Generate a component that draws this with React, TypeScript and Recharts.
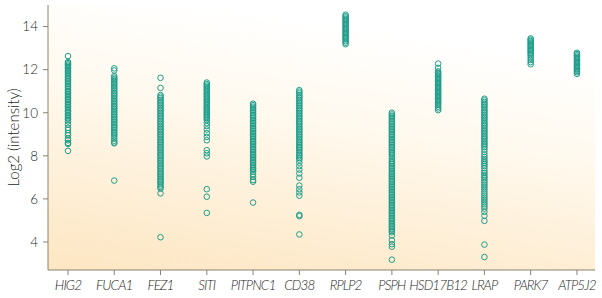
import React from "react";
import { ScatterChart, Scatter, XAxis, YAxis, CartesianGrid } from "recharts";

const categories = ["HIG2", "FUCA1", "FEZ1", "SIT1", "PITPNC1", "CD38", "RPLP2", "PSPH", "HSD17B12", "LRAP", "PARK7", "ATP5J2"];
const tickLabels = ["HIG2", "FUCA1", "FEZ1", "SITI", "PITPNC1", "CD38", "RPLP2", "PSPH", "HSD17B12", "LRAP", "PARK7", "ATP5J2"];
const yTicks = [4, 6, 8, 10, 12, 14];

const HIG2 = [12.63, 12.35, 12.3, 12.24, 12.18, 12.12, 12.05, 11.98, 11.92, 11.85, 11.78, 11.7, 11.63, 11.55, 11.48, 11.4, 11.33, 11.25, 11.18, 11.1, 11.02, 10.95, 10.88, 10.8, 10.72, 10.65, 10.58, 10.5, 10.42, 10.35, 10.28, 10.2, 10.12, 10.05, 9.98, 9.9, 9.83, 9.75, 9.68, 9.6, 9.45, 9.3, 9.2, 9.05, 8.95, 8.8, 8.72, 8.6, 8.55, 8.23];
const FUCA1 = [12.06, 11.96, 11.7, 11.63, 11.56, 11.5, 11.43, 11.36, 11.3, 11.22, 11.15, 11.08, 11.0, 10.92, 10.85, 10.78, 10.7, 10.62, 10.55, 10.48, 10.4, 10.32, 10.25, 10.18, 10.1, 10.02, 9.95, 9.88, 9.8, 9.72, 9.65, 9.58, 9.5, 9.42, 9.35, 9.28, 9.2, 9.12, 9.05, 8.98, 8.9, 8.8, 8.7, 8.62, 8.58, 6.85];
const FEZ1 = [11.62, 11.15, 10.82, 10.75, 10.68, 10.6, 10.52, 10.45, 10.38, 10.3, 10.22, 10.15, 10.08, 10.0, 9.92, 9.85, 9.78, 9.7, 9.62, 9.55, 9.48, 9.4, 9.32, 9.25, 9.18, 9.1, 9.02, 8.95, 8.88, 8.8, 8.72, 8.65, 8.58, 8.5, 8.42, 8.35, 8.28, 8.2, 8.12, 8.05, 7.98, 7.9, 7.82, 7.75, 7.68, 7.6, 7.52, 7.45, 7.38, 7.3, 7.22, 7.15, 7.08, 7.0, 6.92, 6.85, 6.78, 6.7, 6.62, 6.55, 6.48, 6.26, 4.22];
const SIT1 = [11.4, 11.33, 11.26, 11.2, 11.13, 11.06, 11.0, 10.93, 10.86, 10.8, 10.73, 10.66, 10.6, 10.53, 10.46, 10.4, 10.33, 10.26, 10.2, 10.13, 10.06, 10.0, 9.93, 9.86, 9.8, 9.73, 9.66, 9.52, 9.38, 9.22, 9.05, 8.88, 8.72, 8.26, 8.12, 7.97, 6.45, 6.1, 5.35];
const PITPNC1 = [10.42, 10.35, 10.28, 10.2, 10.13, 10.06, 9.98, 9.9, 9.83, 9.76, 9.68, 9.6, 9.53, 9.46, 9.38, 9.3, 9.23, 9.16, 9.08, 9.0, 8.93, 8.86, 8.78, 8.7, 8.63, 8.56, 8.48, 8.4, 8.33, 8.26, 8.18, 8.1, 8.03, 7.96, 7.88, 7.8, 7.73, 7.66, 7.58, 7.5, 7.42, 7.35, 7.27, 7.15, 7.02, 6.88, 6.8, 5.83];
const CD38 = [11.05, 10.98, 10.9, 10.82, 10.75, 10.68, 10.6, 10.52, 10.45, 10.38, 10.3, 10.22, 10.15, 10.08, 10.0, 9.92, 9.85, 9.78, 9.7, 9.62, 9.55, 9.48, 9.4, 9.32, 9.25, 9.18, 9.1, 9.02, 8.95, 8.88, 8.8, 8.72, 8.65, 8.58, 8.5, 8.42, 8.35, 8.28, 8.2, 8.12, 8.05, 7.98, 7.9, 7.82, 7.68, 7.52, 7.36, 7.18, 6.98, 6.62, 6.45, 6.3, 6.15, 5.26, 5.2, 4.35];
const RPLP2 = [14.55, 14.48, 14.42, 14.36, 14.3, 14.24, 14.18, 14.12, 14.06, 14.0, 13.94, 13.88, 13.82, 13.76, 13.7, 13.64, 13.58, 13.52, 13.46, 13.4, 13.32, 13.25, 13.18];
const PSPH = [10.0, 9.92, 9.85, 9.78, 9.7, 9.62, 9.55, 9.48, 9.4, 9.32, 9.25, 9.18, 9.1, 9.02, 8.95, 8.88, 8.8, 8.72, 8.65, 8.58, 8.5, 8.42, 8.35, 8.28, 8.2, 8.12, 8.05, 7.95, 7.85, 7.75, 7.68, 7.6, 7.52, 7.45, 7.38, 7.3, 7.22, 7.15, 7.08, 7.0, 6.92, 6.85, 6.78, 6.7, 6.62, 6.55, 6.48, 6.4, 6.32, 6.25, 6.18, 6.1, 6.02, 5.95, 5.88, 5.8, 5.72, 5.65, 5.58, 5.5, 5.42, 5.35, 5.28, 5.2, 5.12, 5.05, 4.98, 4.9, 4.82, 4.75, 4.68, 4.6, 4.52, 4.45, 4.3, 4.08, 3.9, 3.78, 3.18];
const HSD17B12 = [12.28, 12.08, 11.92, 11.86, 11.8, 11.74, 11.68, 11.62, 11.56, 11.5, 11.44, 11.38, 11.32, 11.26, 11.2, 11.14, 11.08, 11.02, 10.96, 10.9, 10.84, 10.78, 10.72, 10.66, 10.6, 10.54, 10.48, 10.42, 10.36, 10.28, 10.2, 10.12];
const LRAP = [10.65, 10.58, 10.5, 10.42, 10.35, 10.28, 10.2, 10.12, 10.05, 9.98, 9.9, 9.82, 9.75, 9.68, 9.6, 9.52, 9.45, 9.38, 9.3, 9.22, 9.15, 9.08, 9.0, 8.92, 8.85, 8.78, 8.7, 8.62, 8.55, 8.48, 8.4, 8.3, 8.18, 8.05, 7.95, 7.85, 7.75, 7.68, 7.6, 7.52, 7.42, 7.3, 7.2, 7.1, 7.02, 6.95, 6.85, 6.75, 6.65, 6.55, 6.45, 6.35, 6.25, 6.15, 6.05, 5.95, 5.85, 5.75, 5.65, 5.55, 5.4, 5.22, 4.98, 3.88, 3.3];
const PARK7 = [13.45, 13.39, 13.33, 13.27, 13.21, 13.15, 13.09, 13.03, 12.97, 12.91, 12.85, 12.79, 12.73, 12.65, 12.55, 12.45, 12.35, 12.25];
const ATP5J2 = [12.78, 12.72, 12.66, 12.6, 12.54, 12.48, 12.42, 12.36, 12.3, 12.24, 12.18, 12.12, 12.06, 12.0, 11.94, 11.88, 11.8];

const seriesValues = [HIG2, FUCA1, FEZ1, SIT1, PITPNC1, CD38, RPLP2, PSPH, HSD17B12, LRAP, PARK7, ATP5J2];

const data = seriesValues.flatMap((vals, i) => vals.map((v) => ({ x: i + 1, y: v, gene: categories[i] })));

const TEAL = "#1e9e8a";
const AXIS = "#8a8171";
const FONT = "Lato, 'Open Sans', sans-serif";
const TEXT = "#1f1f1f";

const Dot = (props: any) => {
  const { cx, cy } = props;
  if (cx == null || cy == null) return null;
  return <circle cx={cx} cy={cy} r={2.8} fill="none" stroke={TEAL} strokeWidth={1} />;
};

const YLabel = (props: any) => {
  const vb = props.viewBox || {};
  const cy = (vb.y ?? 5) + (vb.height ?? 265) / 2;
  const x = 19;
  return (
    <text
      x={x}
      y={cy}
      transform={`rotate(-90, ${x}, ${cy})`}
      textAnchor="middle"
      fill={TEXT}
      fontSize={15}
      fontFamily={FONT}
      fontWeight={300}
    >
      Log2 (intensity)
    </text>
  );
};

export default function App() {
  return (
    <div style={{ position: "fixed", left: 0, top: 0, width: 602, height: 298, background: "#ffffff" }}>
      <ScatterChart width={602} height={298} margin={{ top: 5, right: 7, bottom: 0, left: 0 }}>
        <defs>
          <linearGradient id="bgGrad" x1="0.3" y1="0" x2="0" y2="1">
            <stop offset="0%" stopColor="#ffffff" />
            <stop offset="35%" stopColor="#fff9ee" />
            <stop offset="100%" stopColor="#fde6c2" />
          </linearGradient>
        </defs>
        <CartesianGrid fill="url(#bgGrad)" fillOpacity={1} stroke="none" horizontal={false} vertical={false} />
        <XAxis
          type="number"
          dataKey="x"
          domain={[0.568, 12.39]}
          ticks={[1, 2, 3, 4, 5, 6, 7, 8, 9, 10, 11, 12]}
          tickFormatter={(v: number) => tickLabels[v - 1]}
          allowDataOverflow
          height={28}
          stroke={AXIS}
          tickSize={5}
          tickMargin={5}
          tick={{ fill: TEXT, fontSize: 13.5, fontStyle: "italic", fontFamily: FONT, fontWeight: 300, letterSpacing: -0.9 }}
          interval={0}
        />
        <YAxis
          type="number"
          dataKey="y"
          domain={[2.7, 15]}
          ticks={yTicks}
          allowDataOverflow
          width={48}
          stroke={AXIS}
          tickSize={5}
          tickMargin={5}
          tick={{ fill: TEXT, fontSize: 13.5, fontFamily: FONT, fontWeight: 300 }}
          label={<YLabel />}
        />
        <Scatter data={data} shape={<Dot />} isAnimationActive={false} />
      </ScatterChart>
    </div>
  );
}
